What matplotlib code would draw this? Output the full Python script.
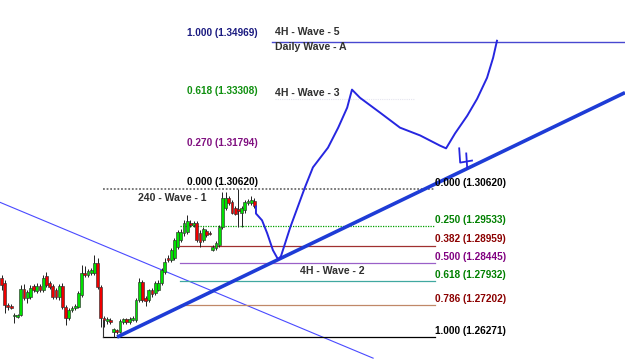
import matplotlib
matplotlib.use("Agg")
import matplotlib.pyplot as plt
import numpy as np

# ---- candle data (4H bars) ----
opens = [1.2800, 1.2786, 1.2721, 1.2718, 1.2689, 1.2686, 1.2692, 1.2768, 1.2742, 1.2745,
         1.2777, 1.2762, 1.2777, 1.2765, 1.2806, 1.2786, 1.2777, 1.2765, 1.2745, 1.2777,
         1.2715, 1.2683, 1.2706, 1.2712, 1.2715, 1.2750, 1.2815, 1.2809, 1.2815, 1.2815,
         1.2844, 1.2774, 1.2683, 1.2674, 1.2677, 1.2641, 1.2647, 1.2641, 1.2671, 1.2680,
         1.2671, 1.2677, 1.2677, 1.2736, 1.2789, 1.2742, 1.2736, 1.2765, 1.2756, 1.2765,
         1.2786, 1.2818, 1.2859, 1.2853, 1.2859, 1.2892, 1.2912, 1.2933, 1.2936, 1.2962,
         1.2956, 1.2962, 1.2933, 1.2912, 1.2939, 1.2933, 1.2883, 1.2889, 1.2897, 1.2950,
         1.3006, 1.3036, 1.3024, 1.3006, 1.3003, 1.2994, 1.3000, 1.3021, 1.3021, 1.3027]
highs = [1.2809, 1.2795, 1.2727, 1.2724, 1.2697, 1.2695, 1.2780, 1.2783, 1.2765, 1.2780,
         1.2783, 1.2786, 1.2783, 1.2809, 1.2818, 1.2792, 1.2783, 1.2771, 1.2783, 1.2786,
         1.2721, 1.2712, 1.2718, 1.2724, 1.2762, 1.2839, 1.2836, 1.2827, 1.2830, 1.2868,
         1.2859, 1.2780, 1.2689, 1.2686, 1.2683, 1.2653, 1.2650, 1.2680, 1.2683, 1.2683,
         1.2686, 1.2689, 1.2742, 1.2800, 1.2795, 1.2747, 1.2768, 1.2771, 1.2792, 1.2795,
         1.2830, 1.2859, 1.2868, 1.2889, 1.2918, 1.2942, 1.2944, 1.2971, 1.2986, 1.2971,
         1.2968, 1.2968, 1.2942, 1.2950, 1.2944, 1.2939, 1.2897, 1.2909, 1.2956, 1.3053,
         1.3053, 1.3044, 1.3030, 1.3012, 1.3062, 1.3012, 1.3030, 1.3033, 1.3044, 1.3038]
lows = [1.2765, 1.2697, 1.2706, 1.2709, 1.2668, 1.2683, 1.2689, 1.2736, 1.2727, 1.2739,
        1.2759, 1.2756, 1.2759, 1.2759, 1.2774, 1.2768, 1.2739, 1.2739, 1.2736, 1.2709,
        1.2662, 1.2677, 1.2700, 1.2706, 1.2712, 1.2745, 1.2803, 1.2803, 1.2809, 1.2809,
        1.2768, 1.2656, 1.2656, 1.2665, 1.2665, 1.2627, 1.2636, 1.2639, 1.2665, 1.2665,
        1.2665, 1.2674, 1.2671, 1.2730, 1.2730, 1.2718, 1.2730, 1.2745, 1.2750, 1.2762,
        1.2780, 1.2812, 1.2847, 1.2847, 1.2853, 1.2886, 1.2906, 1.2924, 1.2930, 1.2950,
        1.2950, 1.2906, 1.2892, 1.2906, 1.2921, 1.2927, 1.2880, 1.2883, 1.2892, 1.2944,
        1.3000, 1.3015, 1.2989, 1.2986, 1.2950, 1.2950, 1.2994, 1.3015, 1.3015, 1.3006]
closes = [1.2780, 1.2721, 1.2715, 1.2712, 1.2692, 1.2692, 1.2768, 1.2742, 1.2759, 1.2771,
          1.2765, 1.2777, 1.2765, 1.2800, 1.2780, 1.2774, 1.2745, 1.2745, 1.2777, 1.2715,
          1.2683, 1.2706, 1.2712, 1.2718, 1.2756, 1.2815, 1.2809, 1.2821, 1.2824, 1.2844,
          1.2774, 1.2683, 1.2677, 1.2680, 1.2671, 1.2650, 1.2641, 1.2674, 1.2680, 1.2671,
          1.2680, 1.2683, 1.2736, 1.2789, 1.2736, 1.2733, 1.2765, 1.2753, 1.2786, 1.2786,
          1.2824, 1.2847, 1.2853, 1.2883, 1.2912, 1.2936, 1.2936, 1.2962, 1.2968, 1.2956,
          1.2962, 1.2912, 1.2906, 1.2944, 1.2927, 1.2932, 1.2892, 1.2903, 1.2950, 1.3036,
          1.3036, 1.3021, 1.2994, 1.2991, 1.2997, 1.3006, 1.3024, 1.3027, 1.3030, 1.3012]

# ---- fibonacci retracement (Wave 1) ----
fib_ratios = ["0.000", "0.250", "0.382", "0.500", "0.618", "0.786", "1.000"]
fib_prices = [1.30620, 1.29533, 1.28959, 1.28445, 1.27932, 1.27202, 1.26271]
fib_line_colors = ["#707070", "#00a000", "#a03030", "#9a60c8", "#40a8a0", "#c08868", "#000000"]
fib_text_colors = ["#000000", "#008000", "#8b0000", "#800080", "#008000", "#8b0000", "#000000"]

# ---- fibonacci extension (targets) ----
ext_ratios = ["1.000", "0.618", "0.270", "0.000"]
ext_prices = [1.34969, 1.33308, 1.31794, 1.30620]
ext_text_colors = ["#1a1a80", "#109010", "#801080", "#000000"]

# ---- hand drawn projection (bar index, price) ----
path_x = [79.5, 79.5, 81.4, 83.0, 84.8, 86.4, 87.3, 90.2, 94.8, 97.3, 102.0, 105.2, 108.0,
          109.5, 112.0, 118.3, 124.5, 130.8, 137.0, 138.9, 141.7, 145.5, 148.6, 151.7,
          153.6, 154.8]
path_y = [1.3012, 1.2991, 1.2971, 1.2933, 1.2883, 1.2856, 1.2865, 1.2950, 1.3068, 1.3127,
          1.3185, 1.3244, 1.3303, 1.3356, 1.3332, 1.3288, 1.3244, 1.3221, 1.3191, 1.3183,
          1.3227, 1.3279, 1.3329, 1.3391, 1.3450, 1.3500]

fig = plt.figure(figsize=(6.25, 3.61), dpi=100)
ax = fig.add_axes([0, 0, 1, 1])
ax.set_xlim(-0.47, 194.8)
ax.set_ylim(1.25566, 1.36200)
ax.axis("off")

n = len(opens)
idx = np.arange(n)
o = np.array(opens); c = np.array(closes); h = np.array(highs); l = np.array(lows)

# thin descending trendline
ax.plot([-0.47, 116.1], [1.3024, 1.2565], color="#4a4aff", lw=0.8, zorder=1)

# fib retracement lines
starts = [31.7, 55.8, 55.8, 55.8, 55.8, 55.8, 31.7]
for p, lc, s, r in zip(fib_prices, fib_line_colors, starts, fib_ratios):
    ls = (0, (1, 1)) if r in ("0.000", "0.250") else "-"
    lw = 1.3 if r == "0.000" else 0.9
    ax.plot([s, 135.5], [p, p], color=lc, lw=lw, ls=ls, zorder=2)
ax.plot([31.7, 31.7], [fib_prices[-1], 1.2677], color="#303030", lw=0.8, zorder=2)

# candles
up = c >= o
wick_col = "#202020"
ax.vlines(idx, l, h, color=wick_col, lw=0.7, zorder=3)
body_bottom = np.minimum(o, c)
body_h = np.maximum(np.abs(c - o), 0.00012)
ax.bar(idx[up], body_h[up], bottom=body_bottom[up], width=0.88,
       color="#00e000", edgecolor="#303030", lw=0.45, zorder=4)
ax.bar(idx[~up], body_h[~up], bottom=body_bottom[~up], width=0.88,
       color="#ee0000", edgecolor="#303030", lw=0.45, zorder=4)

# upper target line
ax.plot([84.5, 194.8], [ext_prices[0], ext_prices[0]], color="#4848d0", lw=1.0, zorder=2)
ax.plot([85.5, 129.0], [ext_prices[1] - 0.0003, ext_prices[1] - 0.0003], color="#e4e4ee",
        lw=0.8, ls=(0, (1, 1)), zorder=1)

# thick rising trendline
ax.plot([36.1, 194.8], [1.2627, 1.33472], color="#1e3cd6", lw=2.6, zorder=5,
        solid_capstyle="butt")

# hand drawn wave projection
ax.plot(path_x, path_y, color="#2626e0", lw=1.4, zorder=6, solid_joinstyle="round")
# hand written "4"
ax.plot([143.0, 143.3, 147.0], [1.3183, 1.3141, 1.3147], color="#2626e0", lw=1.3, zorder=6)
ax.plot([145.2, 145.5], [1.3168, 1.3124], color="#2626e0", lw=1.3, zorder=6)

font = dict(family="Liberation Sans", fontweight="bold", fontsize=7.2)

# right labels of retracement
text_y = [1.3080, 1.2971, 1.2915, 1.2862, 1.2809, 1.2739, 1.2645]
for r, p, ty, tc in zip(fib_ratios, fib_prices, text_y, fib_text_colors):
    ax.text(135.5, ty, f"{r} ({p:.5f})", color=tc, va="center", ha="left", zorder=7, **font)

# left labels of extension
ext_text_y = [1.3523, 1.3353, 1.3200, 1.3083]
for r, p, ty, tc in zip(ext_ratios, ext_prices, ext_text_y, ext_text_colors):
    ax.text(58.0, ty, f"{r} ({p:.5f})", color=tc, va="center", ha="left", zorder=7, **font)

wfont = dict(family="Liberation Sans", fontweight="bold", fontsize=7.6, color="#303030")
ax.text(85.5, 1.3526, "4H - Wave - 5", va="center", ha="left", zorder=7, **wfont)
ax.text(85.5, 1.3482, "Daily Wave - A", va="center", ha="left", zorder=7, **wfont)
ax.text(85.5, 1.3347, "4H - Wave - 3", va="center", ha="left", zorder=7, **wfont)
ax.text(42.7, 1.3036, "240 - Wave - 1", va="center", ha="left", zorder=7, **wfont)
ax.text(93.3, 1.2821, "4H - Wave - 2", va="center", ha="left", zorder=7, **wfont)

fig.savefig("out.png", dpi=100, facecolor="white")
